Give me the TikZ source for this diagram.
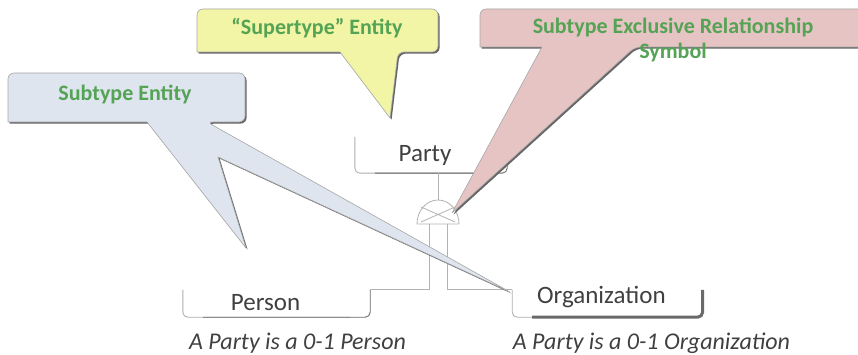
\documentclass[tikz,border=0pt]{standalone}
\usepackage{fontspec}
\setmainfont{Carlito}
\usetikzlibrary{positioning,shadows}

\definecolor{notegreen}{HTML}{55A355}
\definecolor{entitytext}{HTML}{404040}
\definecolor{entityline}{HTML}{AEAEAE}
\definecolor{entityshade}{HTML}{6A6A6A}
\definecolor{subfill}{HTML}{DFE5EF}
\definecolor{superfill}{HTML}{F2F5A6}
\definecolor{exclfill}{HTML}{E7C4C4}

\tikzset{
  entity/.style={draw=none, inner sep=0pt, minimum height=27pt},
  entlabel/.style={text=entitytext, font=\fontsize{25}{30}\selectfont},
  caption/.style={text=entitytext, font=\fontsize{24}{28}\selectfont\itshape},
  callout/.style={fill=#1, draw=black!35, line width=0.6pt, line join=round,
    drop shadow={shadow xshift=1.6pt, shadow yshift=-1.6pt, fill=black!60, opacity=1}},
  note/.style={text=notegreen, font=\fontsize{22}{25}\selectfont\bfseries, align=center},
  conn/.style={draw=black!30, line width=0.8pt},
  boxline/.style={draw=entityline, line width=0.9pt, rounded corners=5pt},
}

% entity box without a top edge
\newcommand\openbox[2][0.9pt]{%
  \draw[boxline] (#2.north west) -- (#2.south west) -- ([xshift=-20pt]#2.south east);
  \draw[boxline, draw=entityshade, line width=#1] ([xshift=20pt]#2.south west) -- (#2.south east) -- (#2.north east);}

\begin{document}
\begin{tikzpicture}[x=1pt, y=-1pt]
  \useasboundingbox (0,0) rectangle (858,355);
  \clip (0,0) rectangle (858,355);

  % entities
  \node[entity, minimum width=152pt, minimum height=36pt,
        label={[entlabel, xshift=-6pt]center:Party}] (party) at (431,155) {};
  \node[entity, minimum width=187pt,
        label={[entlabel, xshift=-11pt, yshift=1pt]center:Person}] (person) at (276.5,303.5) {};
  \node[entity, minimum width=190pt, right=142pt of person,
        label={[entlabel, xshift=-6pt, yshift=6pt]center:Organization}] (org) {};
  \openbox{party}
  \openbox{person}
  \openbox[3pt]{org}

  % exclusive subtype symbol
  \coordinate (excl) at (438,224);
  \draw[conn] ([xshift=-21pt]excl) arc[start angle=180, end angle=360, x radius=21, y radius=24] -- cycle;
  \draw[conn] ([shift={(-17,-17)}]excl) -- ([shift={(17,-2)}]excl)
              ([shift={(-17,-2)}]excl) -- ([shift={(17,-17)}]excl);
  \draw[conn] (party.south -| excl) -- ([yshift=24pt]excl);
  \draw[conn] ([xshift=-9pt]excl) |- (person.north east);
  \draw[conn] ([xshift=9pt]excl) |- (org.north west);

  % callouts
  \path[callout=subfill] (246,248) -- (147,122) -- (8,122)
    [rounded corners=6pt] -- (8,73) -- (245,73) -- (245,122) -- (207,122)
    [sharp corners] -- (510,292) -- (218,157) -- cycle;
  \path[callout=superfill] (390,118) -- (340,52) -- (197,52)
    [rounded corners=6pt] -- (197,9) -- (438,9) -- (438,52) -- (398,52)
    [sharp corners] -- cycle;
  \path[callout=exclfill] (452,213) -- (542,47) -- (480,47)
    [rounded corners=6pt] -- (480,9) -- (870,9) -- (870,47) -- (635,47)
    [sharp corners] -- cycle;

  \node[note] (subnote) at (125,94) {Subtype Entity};
  \node[note] (supernote) at (317,28) {“Supertype” Entity};
  \node[note] (exclnote) at (673,40) {Subtype Exclusive Relationship\\Symbol};

  % captions
  \node[caption, below=12pt of person, xshift=21pt] (personcap) {A Party is a 0-1 Person};
  \node[caption, below=12pt of org, xshift=44pt] (orgcap) {A Party is a 0-1 Organization};
\end{tikzpicture}
\end{document}
